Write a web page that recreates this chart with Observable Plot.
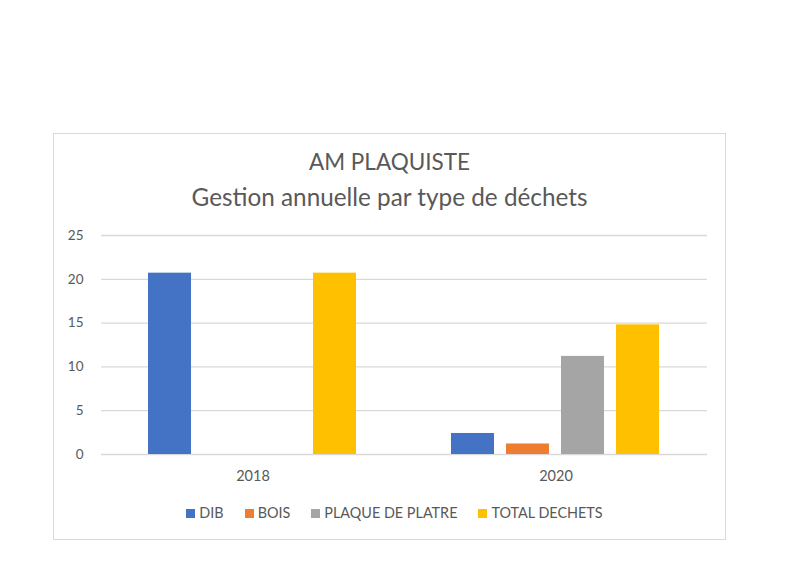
<!DOCTYPE html>
<html>
<head>
<meta charset="utf-8">
<script src="https://cdn.jsdelivr.net/npm/d3@7"></script>
<script src="https://cdn.jsdelivr.net/npm/@observablehq/plot@0.6"></script>
<style>
  html, body { margin: 0; padding: 0; background: #fff; }
  #page { position: relative; width: 800px; height: 587px; font-family: Lato, "Open Sans", sans-serif; color: #595959; }
  #box { position: absolute; left: 53px; top: 133px; width: 673px; height: 407px; border: 1px solid #d9d9d9; box-sizing: border-box; }
  .title { position: absolute; left: 53px; width: 673px; text-align: center; color: #595959; white-space: nowrap; }
  #chart { position: absolute; left: 0; top: 220px; }
  #legend { position: absolute; left: 53px; width: 673px; top: 504px; display: flex; justify-content: center; gap: 21px; font-size: 14.4px; color: #595959; padding-left: 10px; box-sizing: border-box; }
  #legend span.sw { display: inline-block; width: 9px; height: 9px; margin-right: 4px; vertical-align: 0px; }
</style>
</head>
<body>
<div id="page">
  <div id="box"></div>
  <div class="title" style="top:148px; font-size:22.5px">AM PLAQUISTE</div>
  <div class="title" style="top:182px; font-size:24.3px">Gestion annuelle par type de déchets</div>
  <div id="chart"></div>
  <div id="legend"></div>
</div>
<script>
const years = ["2018", "2020"];
const types = ["DIB", "BOIS", "PLAQUE DE PLATRE", "TOTAL DECHETS"];
const dib = [20.7, 2.4];
const bois = [0, 1.2];
const plaque = [0, 11.2];
const total = [20.7, 14.8];
const colors = ["#4472C4", "#ED7D31", "#A5A5A5", "#FFC000"];
const yTicks = [0, 5, 10, 15, 20, 25];

const series = [dib, bois, plaque, total];
const data = [];
years.forEach((yr, i) => types.forEach((t, j) => data.push({year: yr, type: t, value: series[j][i]})));

const plot = Plot.plot({
  width: 800,
  height: 274,
  marginTop: 15,
  marginBottom: 40,
  marginLeft: 100,
  marginRight: 93,
  style: {fontFamily: "Lato, 'Open Sans', sans-serif", fontSize: "13.5px", color: "#595959", background: "transparent"},
  fx: {domain: years, padding: 0, label: null},
  x: {domain: types, axis: null, paddingInner: 0.217, paddingOuter: 0.848},
  y: {domain: [0, 25], label: null},
  color: {domain: types, range: colors},
  marks: [
    Plot.ruleY(yTicks, {stroke: "#d9d9d9", strokeWidth: 1.3}),
    Plot.axisY(yTicks, {tickSize: 0, tickPadding: 18, label: null, fill: "#595959"}),
    Plot.axisFx({tickSize: 0, tickPadding: 16, label: null, fill: "#595959", anchor: "bottom", fontSize: 14.5}),
    Plot.barY(data, {fx: "year", x: "type", y: "value", fill: "type"})
  ]
});
document.getElementById("chart").appendChild(plot);

const legend = document.getElementById("legend");
types.forEach((t, j) => {
  const item = document.createElement("div");
  item.innerHTML = `<span class="sw" style="background:${colors[j]}"></span>${t}`;
  legend.appendChild(item);
});
</script>
</body>
</html>
